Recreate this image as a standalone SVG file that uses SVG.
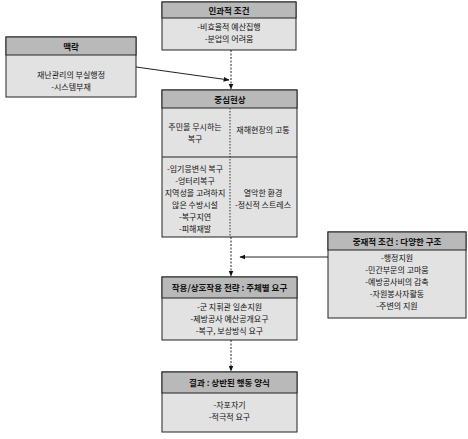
<svg xmlns="http://www.w3.org/2000/svg" width="468" height="439" viewBox="0 0 468 439">
<defs>
<marker id="ah" viewBox="0 0 10 10" refX="9" refY="5" markerWidth="6" markerHeight="6" orient="auto"><path d="M0,1 L10,5 L0,9 z" fill="#111"/></marker>
</defs>
<style>
text{font-family:"Noto Sans CJK KR","Noto Sans",sans-serif;font-size:8px;fill:#111;text-anchor:middle}
.hd{fill:#b9b9b9;stroke:#222;stroke-width:1}
.bd{fill:#e2e2e2;stroke:#222;stroke-width:1}
.ht{font-weight:bold;font-size:8.5px}
.dv{stroke:#333;stroke-width:1;stroke-dasharray:1.5 1.5;fill:none}
.cn{stroke:#222;stroke-width:1;fill:none}
.dc{stroke:#222;stroke-width:1;stroke-dasharray:2 1.5;fill:none}
</style>
<rect width="468" height="439" fill="#fff"/>
<g id="causal">
<rect class="bd" x="162" y="2" width="134" height="48"/>
<rect class="hd" x="162" y="2" width="134" height="16"/>
<text class="ht" x="229" y="13.5">인과적 조건</text>
<text x="229" y="30">-비효율적 예산집행</text>
<text x="229" y="42">-분업의 어려움</text>
</g>
<g id="context">
<rect class="bd" x="6" y="37" width="130" height="60"/>
<rect class="hd" x="6" y="37" width="130" height="18"/>
<text class="ht" x="71" y="49.5">맥락</text>
<text x="71" y="78">재난관리의 부실행정</text>
<text x="71" y="90">-시스템부재</text>
</g>
<g id="central">
<rect class="bd" x="162" y="90" width="135" height="147"/>
<rect class="hd" x="162" y="90" width="135" height="18"/>
<text class="ht" x="230" y="102.5">중심현상</text>
<line class="dv" x1="230" y1="108" x2="230" y2="237"/>
<line class="cn" x1="162" y1="157" x2="297" y2="157"/>
<text x="195" y="130">주민을 무시하는</text>
<text x="195" y="142">복구</text>
<text x="263" y="133">재해현장의 고통</text>
<text x="195" y="172">-임기응변식 복구</text>
<text x="195" y="184">-엉터리복구</text>
<text x="195" y="196">지역성을 고려하지</text>
<text x="195" y="208">않은 수방시설</text>
<text x="195" y="220">-복구지연</text>
<text x="195" y="232">-피해재발</text>
<text x="263" y="196">열악한 환경</text>
<text x="263" y="208">-정신적 스트레스</text>
</g>
<g id="intervening">
<rect class="bd" x="328" y="232" width="138" height="86"/>
<rect class="hd" x="328" y="232" width="138" height="18"/>
<text class="ht" x="397" y="244.5">중재적 조건 : 다양한 구조</text>
<text x="397" y="261">-행정지원</text>
<text x="397" y="273">-민간부문의 고마움</text>
<text x="397" y="285">-예방공사비의 감축</text>
<text x="397" y="297">-자원봉사자활동</text>
<text x="397" y="309">-주변의 지원</text>
</g>
<g id="strategy">
<rect class="bd" x="162" y="277" width="135" height="63"/>
<rect class="hd" x="162" y="277" width="135" height="21"/>
<text class="ht" x="229.5" y="291">작용/상호작용 전략 : 주체별 요구</text>
<text x="229.5" y="310">-군 지휘관 일손지원</text>
<text x="229.5" y="322">-제방공사 예산공개요구</text>
<text x="229.5" y="334">-복구, 보상방식 요구</text>
</g>
<g id="consequence">
<rect class="bd" x="162" y="372" width="135" height="60"/>
<rect class="hd" x="162" y="372" width="135" height="21"/>
<text class="ht" x="229.5" y="386">결과 : 상반된 행동 양식</text>
<text x="229.5" y="408">-자포자기</text>
<text x="229.5" y="420">-적극적 요구</text>
</g>
<g id="connectors">
<line class="dc" x1="231" y1="50" x2="231" y2="89" marker-end="url(#ah)"/>
<line class="cn" x1="136" y1="67" x2="229" y2="80" marker-end="url(#ah)"/>
<line class="dc" x1="231" y1="237" x2="231" y2="276" marker-end="url(#ah)"/>
<line class="cn" x1="328" y1="257" x2="240" y2="257" marker-end="url(#ah)"/>
<line class="dc" x1="231" y1="340" x2="231" y2="371" marker-end="url(#ah)"/>
</g>
</svg>
